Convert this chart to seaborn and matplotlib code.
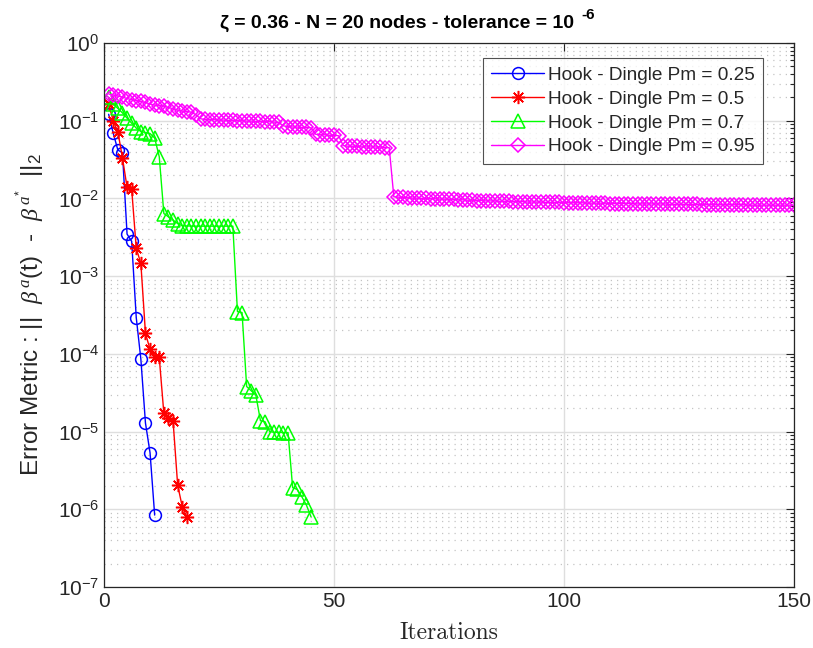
import numpy as np
import pandas as pd
import matplotlib
matplotlib.use("Agg")
import matplotlib.pyplot as plt
import seaborn as sns
from matplotlib.ticker import FixedLocator, NullFormatter, LogFormatterSciNotation

# ---------------- data ----------------
blue_y = [0.121, 0.0689, 0.042, 0.0387, 0.00348, 0.00281, 2.92e-4, 8.57e-5,
          1.29e-5, 5.33e-6, 8.43e-7]
red_y = [0.164, 0.099, 0.072, 0.0334, 0.0139, 0.0133, 0.00228, 0.00146,
         1.84e-4, 1.14e-4, 9.1e-5, 9.0e-5, 1.71e-5, 1.49e-5, 1.38e-5,
         2.05e-6, 1.08e-6, 8.0e-7]
green_y = [0.20, 0.164, 0.144, 0.126, 0.108, 0.093, 0.0805, 0.0726, 0.0705,
           0.0685, 0.0599, 0.0344, 0.0064, 0.0058, 0.00527, 0.00475,
           0.00445, 0.00443, 0.00441, 0.0044, 0.0044, 0.0044, 0.0044, 0.0044,
           0.0044, 0.0044, 0.0044, 0.0044,
           3.5e-4, 3.4e-4, 3.8e-5, 3.35e-5, 2.95e-5, 1.38e-5, 1.34e-5, 1.0e-5,
           9.8e-6, 9.8e-6, 9.7e-6, 9.7e-6, 1.9e-6, 1.8e-6, 1.45e-6, 1.13e-6,
           8.0e-7]
magenta_y = [0.221, 0.214, 0.208, 0.202, 0.193, 0.187, 0.182, 0.177, 0.172, 0.164,
             0.159, 0.157, 0.154, 0.148, 0.142, 0.137, 0.133, 0.131, 0.129, 0.119,
             0.106, 0.104, 0.103, 0.103, 0.102, 0.102, 0.101, 0.101, 0.100, 0.100,
             0.099, 0.099, 0.098, 0.098, 0.097, 0.097, 0.096, 0.095,
             0.086, 0.084, 0.083, 0.083, 0.082, 0.082, 0.081,
             0.067, 0.066, 0.066, 0.065, 0.065, 0.064,
             0.048, 0.047, 0.047, 0.047, 0.046, 0.046, 0.046, 0.046, 0.046, 0.045, 0.045,
             0.0105, 0.0104, 0.0103, 0.0102, 0.0101, 0.0101, 0.0100, 0.0100, 0.0099, 0.0099,
             0.0098, 0.0098, 0.0097, 0.0097, 0.0096, 0.0096, 0.0095, 0.0095, 0.0094, 0.0094,
             0.0093, 0.0093, 0.0093, 0.0092, 0.0092, 0.0092, 0.0091, 0.0091, 0.0091, 0.0090,
             0.0090, 0.0090, 0.0090, 0.0089, 0.0089, 0.0089, 0.0089, 0.0088, 0.0088, 0.0088,
             0.0088, 0.0088, 0.0087, 0.0087, 0.0087, 0.0087, 0.0087, 0.0086, 0.0086, 0.0086,
             0.0086, 0.0086, 0.0086, 0.0085, 0.0085, 0.0085, 0.0085, 0.0085, 0.0085, 0.0085,
             0.0084, 0.0084, 0.0084, 0.0084, 0.0084, 0.0084, 0.0084, 0.0083, 0.0083, 0.0083,
             0.0083, 0.0083, 0.0083, 0.0083, 0.0083, 0.0083, 0.0083, 0.0082, 0.0082, 0.0082,
             0.0082, 0.0082, 0.0082, 0.0082, 0.0082, 0.0082, 0.0082, 0.0082]

labels = ["Hook - Dingle Pm = 0.25", "Hook - Dingle Pm = 0.5",
          "Hook - Dingle Pm = 0.7", "Hook - Dingle Pm = 0.95"]
colors = ["#0000ff", "#ff0000", "#00ff00", "#ff00ff"]
markers = ["o", (8, 2, 0), "^", "D"]
msizes = [8.5, 9.5, 9.5, 7.5]
series = [blue_y, red_y, green_y, magenta_y]
x_ticks = [0, 50, 100, 150]
y_ticks = [1e-7, 1e-6, 1e-5, 1e-4, 1e-3, 1e-2, 1e-1, 1e0]

# ---------------- style ----------------
sns.set_style("white")
plt.rcParams["font.family"] = ["Liberation Sans", "DejaVu Sans"]
plt.rcParams["mathtext.fontset"] = "custom"
plt.rcParams["mathtext.rm"] = "Liberation Sans"
plt.rcParams["mathtext.it"] = "Liberation Serif:italic"
plt.rcParams["mathtext.bf"] = "Liberation Sans:bold"

fig = plt.figure(figsize=(8.13, 6.48), dpi=100)
ax = fig.add_axes([0.128, 0.0941, 0.8486, 0.8395])

for ys, lab, c, m, ms in zip(series, labels, colors, markers, msizes):
    df = pd.DataFrame({"it": np.arange(1, len(ys) + 1), "err": ys})
    sns.lineplot(data=df, x="it", y="err", ax=ax, color=c, linewidth=1.0,
                 marker=m, markersize=ms, markerfacecolor="none",
                 markeredgecolor=c, markeredgewidth=1.1, label=lab)

ax.set_yscale("log")
ax.set_xlim(0, 150)
ax.set_ylim(1e-7, 1)
ax.xaxis.set_major_locator(FixedLocator(x_ticks))
ax.yaxis.set_major_locator(FixedLocator(y_ticks))
ax.yaxis.set_major_formatter(LogFormatterSciNotation())
minor = [m * 10.0 ** e for e in range(-7, 0) for m in range(2, 10)]
ax.yaxis.set_minor_locator(FixedLocator(minor))
ax.yaxis.set_minor_formatter(NullFormatter())

ax.grid(True, which="major", color="#dedede", linewidth=1.0, linestyle="-")
ax.grid(True, which="minor", axis="y", color="#c4c4c4", linewidth=0.9,
        linestyle=(0, (1, 4)))
ax.set_axisbelow(True)

ax.tick_params(which="both", direction="in", top=True, right=True,
               colors="#262626", labelsize=15)
ax.tick_params(which="major", length=6, width=0.8)
ax.tick_params(which="minor", length=3, width=0.8)
for sp in ax.spines.values():
    sp.set_color("#262626")
    sp.set_linewidth(0.9)

ax.set_xlabel("Iterations", fontfamily="cmr10", fontsize=17, color="#262626",
              labelpad=8)
ax.set_ylabel(r"Error Metric : ||  $\beta^{\,a}$(t)  -  $\beta^{\,a^{*}}$  ||$_2$",
              fontsize=17.5, color="#262626", labelpad=8)
ttl = ax.set_title("ζ = 0.36 - N = 20 nodes - tolerance = 10",
                   fontsize=14, fontweight="bold", color="black", pad=11,
                   x=0.425)
ax.annotate("-6", xy=(1, 1), xycoords=ttl, xytext=(5, 5),
            textcoords="offset points", ha="left", va="top",
            fontsize=11, fontweight="bold", color="black")

leg = ax.legend(loc="upper right", bbox_to_anchor=(0.955, 0.9724),
                borderaxespad=0, fontsize=13.7, frameon=True, fancybox=False,
                handlelength=2.75, handletextpad=0.2, borderpad=0.45,
                labelspacing=0.34)
leg.get_frame().set_edgecolor("#262626")
leg.get_frame().set_linewidth(0.8)
for t in leg.get_texts():
    t.set_color("#262626")

fig.savefig("out.png", dpi=100)
